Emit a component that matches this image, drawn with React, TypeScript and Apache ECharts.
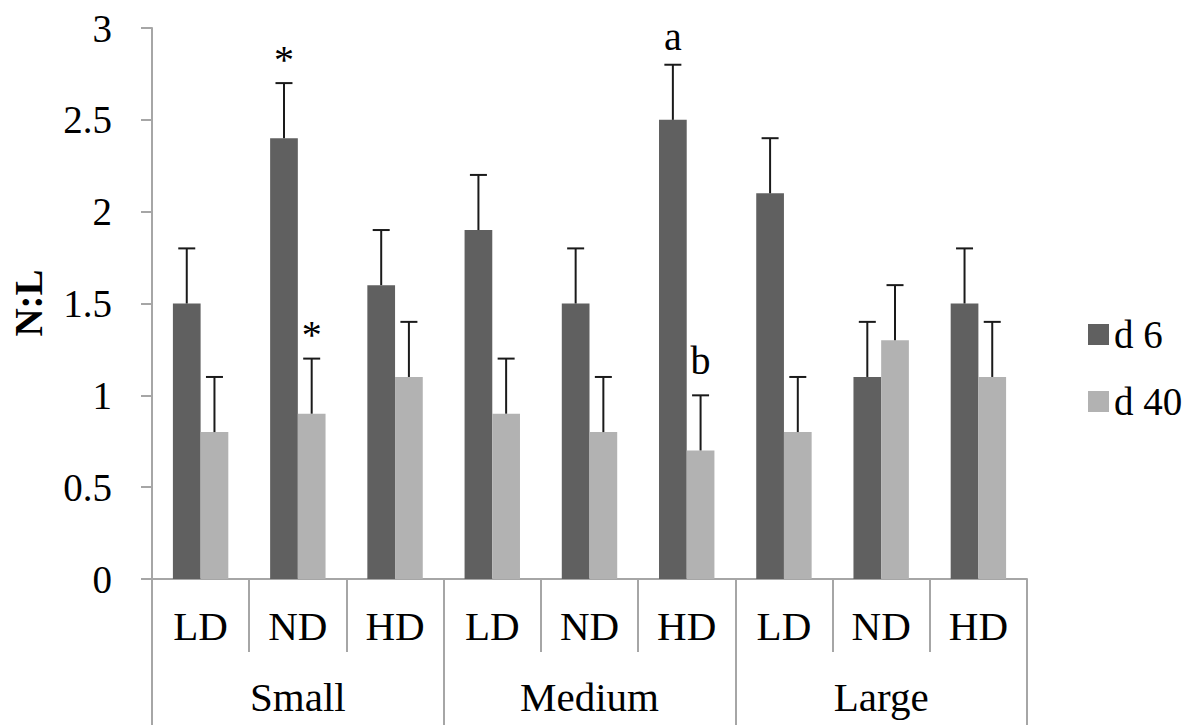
import React, { useEffect, useRef } from "react";
import * as echarts from "echarts";

const categories = ["LD", "ND", "HD", "LD", "ND", "HD", "LD", "ND", "HD"];
const groups = ["Small", "Medium", "Large"];
const d6Values = [1.5, 2.4, 1.6, 1.9, 1.5, 2.5, 2.1, 1.1, 1.5];
const d40Values = [0.8, 0.9, 1.1, 0.9, 0.8, 0.7, 0.8, 1.3, 1.1];
const d6Errors = [0.3, 0.3, 0.3, 0.3, 0.3, 0.3, 0.3, 0.3, 0.3];
const d40Errors = [0.3, 0.3, 0.3, 0.3, 0.3, 0.3, 0.3, 0.3, 0.3];
const d6Notes = ["", "*", "", "", "", "a", "", "", ""];
const d40Notes = ["", "*", "", "", "", "b", "", "", ""];
const seriesNames = ["d 6", "d 40"];

const FAMILY = "Liberation Serif, Times New Roman, serif";
const DARK = "#606060";
const LIGHT = "#b2b2b2";
const AXIS = "#a6a6a6";
const GAP = 0.43;
const NOTE_LIFT: Record<string, number> = { "*": 4, a: 8, b: 15 };

function errorSeries(values: number[], errs: number[], notes: string[], sign: number) {
  return {
    type: "custom",
    xAxisIndex: 0,
    yAxisIndex: 0,
    silent: true,
    z: 5,
    data: values.map((v, i) => [i, v, errs[i]]),
    encode: { x: 0, y: 1 },
    renderItem: (params: any, api: any) => {
      const idx = api.value(0);
      const v = api.value(1);
      const e = api.value(2);
      const band = api.size([1, 0])[0];
      const off = (sign * band * (1 - GAP)) / 4;
      const base = api.coord([idx, v]);
      const top = api.coord([idx, v + e]);
      const x = base[0] + off;
      const children: any[] = [
        { type: "line", shape: { x1: x, y1: base[1], x2: x, y2: top[1] }, style: { stroke: "#1a1a1a", lineWidth: 2 } },
        { type: "line", shape: { x1: x - 8.5, y1: top[1], x2: x + 8.5, y2: top[1] }, style: { stroke: "#1a1a1a", lineWidth: 2 } },
      ];
      const note = notes[params.dataIndex];
      if (note) {
        children.push({
          type: "text",
          style: {
            text: note,
            x: x,
            y: top[1] - (NOTE_LIFT[note] ?? 8),
            textAlign: "center",
            textVerticalAlign: "bottom",
            fontFamily: FAMILY,
            fontSize: 40,
            fill: "#000",
          },
        });
      }
      return { type: "group", children };
    },
  };
}

export default function App() {
  const ref = useRef<HTMLDivElement>(null);
  useEffect(() => {
    if (!ref.current) return;
    const chart = echarts.init(ref.current, null, { renderer: "svg" });
    chart.setOption({
      animation: false,
      backgroundColor: "#fff",
      textStyle: { fontFamily: FAMILY, color: "#000" },
      grid: { left: 152, right: 171, top: 28, bottom: 146, containLabel: false },
      legend: {
        orient: "vertical",
        left: 1083,
        top: 310,
        itemWidth: 21,
        itemHeight: 21,
        itemGap: 28,
        icon: "rect",
        data: seriesNames,
        textStyle: { fontFamily: FAMILY, fontSize: 39, color: "#000" },
      },
      xAxis: [
        {
          type: "category",
          position: "bottom",
          data: categories,
          axisLine: { show: true, lineStyle: { color: AXIS, width: 2 } },
          axisTick: { show: true, interval: 0, length: 73, lineStyle: { color: AXIS, width: 2 } },
          axisLabel: { interval: 0, margin: 27, fontFamily: FAMILY, fontSize: 41, color: "#000", lineHeight: 40 },
        },
        {
          type: "category",
          position: "bottom",
          data: groups,
          axisLine: { show: false },
          axisTick: { show: true, interval: 0, length: 146, lineStyle: { color: AXIS, width: 2 } },
          axisLabel: { interval: 0, margin: 98, fontFamily: FAMILY, fontSize: 41, color: "#000", lineHeight: 40 },
        },
      ],
      yAxis: {
        type: "value",
        min: 0,
        max: 3,
        interval: 0.5,
        splitLine: { show: false },
        axisLine: { show: true, lineStyle: { color: AXIS, width: 2 } },
        axisTick: { show: true, length: 11, lineStyle: { color: AXIS, width: 2 } },
        axisLabel: { margin: 40, fontFamily: FAMILY, fontSize: 39, color: "#000" },
      },
      graphic: [
        {
          type: "text",
          x: 28,
          y: 303,
          rotation: Math.PI / 2,
          style: {
            text: "N:L",
            textAlign: "center",
            textVerticalAlign: "middle",
            fontFamily: FAMILY,
            fontWeight: "bold",
            fontSize: 39,
            fill: "#000",
          },
        },
      ],
      series: [
        {
          name: seriesNames[0],
          type: "bar",
          data: d6Values,
          barGap: "0%",
          barCategoryGap: `${GAP * 100}%`,
          itemStyle: { color: DARK },
        },
        {
          name: seriesNames[1],
          type: "bar",
          data: d40Values,
          barGap: "0%",
          barCategoryGap: `${GAP * 100}%`,
          itemStyle: { color: LIGHT },
        },
        errorSeries(d6Values, d6Errors, d6Notes, -1),
        errorSeries(d40Values, d40Errors, d40Notes, 1),
      ],
    });
    return () => chart.dispose();
  }, []);
  return <div ref={ref} style={{ width: 1198, height: 725, position: "absolute", left: 0, top: 0 }} />;
}
